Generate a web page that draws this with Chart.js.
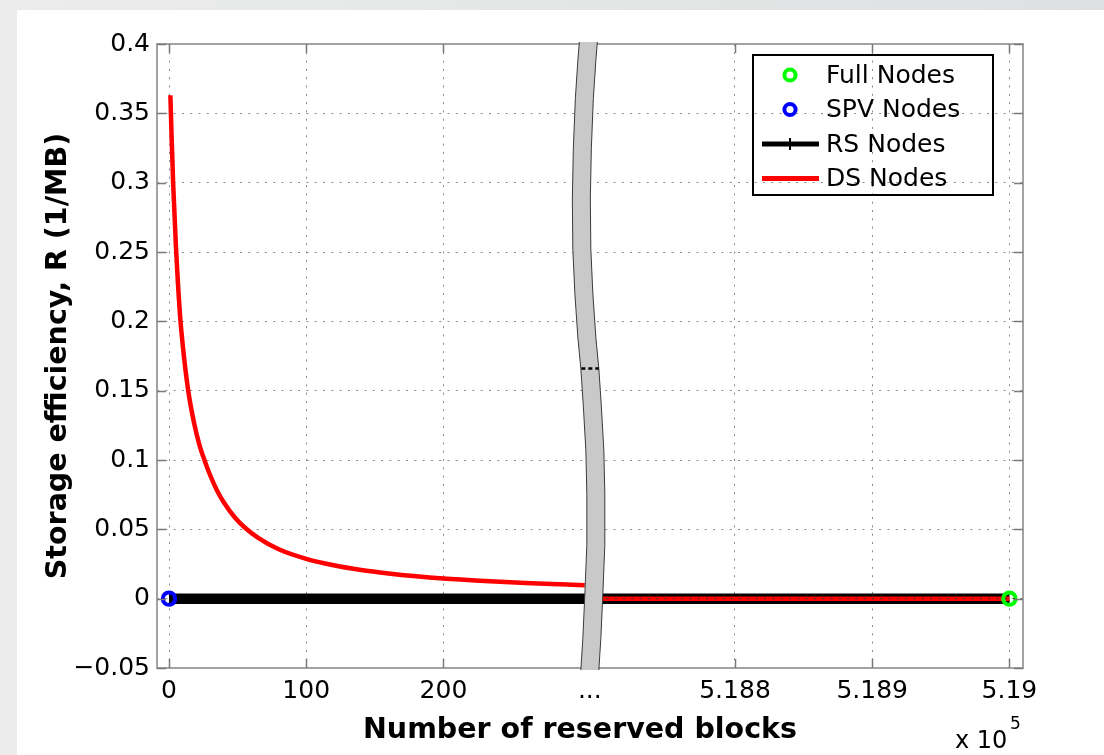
<!DOCTYPE html>
<html><head><meta charset="utf-8">
<script src="https://cdn.jsdelivr.net/npm/chart.js@4.4.0/dist/chart.umd.min.js"></script>
<style>
html,body{margin:0;padding:0;width:1104px;height:755px;overflow:hidden;background:linear-gradient(to right,#ececec,#dde1e1);}
#panel{position:absolute;left:17px;top:10px;right:0;bottom:0;background:#fff;}
#wrap{position:absolute;left:0;top:0;width:1104px;height:755px;}
</style></head><body>
<div id="panel"></div>
<div id="wrap"><canvas id="c" width="1104" height="755"></canvas></div>
<script>
// ---------------- data ----------------
const dsBlocksLeft = [1,2,3,5,8,10,14,18,22,26,30,35,40,48,55,65,80,100,120,140,160,180,200,230,260,290,303];
const dsEffLeft    = [0.363,0.33,0.30,0.255,0.205,0.183,0.15,0.128,0.1115,0.0995,0.089,0.078,0.0693,0.0585,0.0515,0.0438,0.0356,0.0287,0.0241,0.0207,0.0182,0.0162,0.0146,0.0128,0.0113,0.0102,0.0097];
const dsBlocksRight = [518700, 519000];
const dsEffRight    = [0, 0];
const rsBlocksLeft  = [0, 308];
const rsEffLeft     = [0, 0];
const rsBlocksRight = [518700, 519000];
const rsEffRight    = [0, 0];
const fullBlocks = [519000];
const fullEff    = [0];
const spvBlocks  = [0];
const spvEff     = [0];
const xTickBlocks = [0, 100, 200, null, 518800, 518900, 519000];
const xTickLabels = ['0', '100', '200', '...', '5.188', '5.189', '5.19'];
const yTicks      = [-0.05, 0, 0.05, 0.1, 0.15, 0.2, 0.25, 0.3, 0.35, 0.4];
const yTickLabels = ['\u22120.05', '0', '0.05', '0.1', '0.15', '0.2', '0.25', '0.3', '0.35', '0.4'];
const xTitle = 'Number of reserved blocks';
const yTitle = 'Storage efficiency, R (1/MB)';

// ---------------- broken x axis mapping ----------------
const BREAK_POS = 306.7;          // axis position of the "..." break
const RIGHT_ANCHOR = 518800;      // block number of first right-hand tick
const RIGHT_POS = 412.5;          // axis position of that tick
function axisPos(b) { return b === null ? BREAK_POS : (b < 100000 ? b : RIGHT_POS + (b - RIGHT_ANCHOR)); }
function pts(bs, vs) { return bs.map((b, i) => ({ x: axisPos(b), y: vs[i] })); }
const GAP = { x: BREAK_POS, y: null };

const FONT = "'DejaVu Sans', 'Liberation Sans', Arial, sans-serif";

const decor = {
  id: 'decor',
  afterDatasetsDraw(chart) {
    const { ctx, chartArea: a, scales: { x, y } } = chart;
    const y0 = y.getPixelForValue(0);
    ctx.save();
    ctx.strokeStyle = '#333'; ctx.lineWidth = 1; ctx.setLineDash([2, 6.3]);
    ctx.beginPath(); ctx.moveTo(x.getPixelForValue(BREAK_POS), y0); ctx.lineTo(a.right, y0); ctx.stroke();
    ctx.restore();
    // axis box
    ctx.save();
    ctx.strokeStyle = '#a3a3a3'; ctx.lineWidth = 2;
    ctx.strokeRect(a.left, a.top, a.right - a.left, a.bottom - a.top);
    // inward ticks
    ctx.strokeStyle = '#7a7a7a'; ctx.lineWidth = 1.5;
    ctx.beginPath();
    yTicks.forEach(v => {
      const p = Math.round(y.getPixelForValue(v)) + 0.5;
      ctx.moveTo(a.left, p); ctx.lineTo(a.left + 9, p);
      ctx.moveTo(a.right, p); ctx.lineTo(a.right - 9, p);
    });
    xTickBlocks.forEach(b => {
      if (b === null) return;
      const p = Math.round(x.getPixelForValue(axisPos(b))) + 0.5;
      ctx.moveTo(p, a.bottom); ctx.lineTo(p, a.bottom - 9);
      ctx.moveTo(p, a.top); ctx.lineTo(p, a.top + 9);
    });
    ctx.stroke();
    ctx.restore();
    // break band
    const cx = x.getPixelForValue(BREAK_POS);
    const prof = [[0,-1.5],[0.03,-3],[0.09,-5.5],[0.17,-7.5],[0.25,-8.5],[0.33,-8],[0.4,-6],[0.47,-3],[0.52,0],[0.58,2.5],[0.65,5],[0.72,6],[0.8,6],[0.88,4],[0.95,2],[1,0]];
    const hw = 9, top = a.top - 2, h = a.bottom - a.top + 4;
    const edge = (s) => { ctx.beginPath(); prof.forEach(([t, d], i) => { const yy = top + t * h; const xx = cx + d + s * hw; i ? ctx.lineTo(xx, yy) : ctx.moveTo(xx, yy); }); };
    ctx.save();
    ctx.beginPath();
    prof.forEach(([t, d], i) => { const yy = top + t * h; const xx = cx + d - hw; i ? ctx.lineTo(xx, yy) : ctx.moveTo(xx, yy); });
    for (let i = prof.length - 1; i >= 0; i--) { const [t, d] = prof[i]; ctx.lineTo(cx + d + hw, top + t * h); }
    ctx.closePath();
    ctx.fillStyle = '#c9c9c9'; ctx.fill();
    ctx.strokeStyle = '#3a3a3a'; ctx.lineWidth = 1;
    edge(-1); ctx.stroke();
    edge(1); ctx.stroke();
    const ty = a.top + 0.52 * (a.bottom - a.top);
    ctx.strokeStyle = '#000'; ctx.lineWidth = 2.5; ctx.setLineDash([4, 3]);
    ctx.beginPath(); ctx.moveTo(cx - hw + 0.5, ty); ctx.lineTo(cx + hw, ty); ctx.stroke();
    ctx.restore();
  },
  afterDraw(chart) {
    const { ctx } = chart;
    ctx.save();
    ctx.strokeStyle = '#000'; ctx.lineWidth = 2;
    ctx.strokeRect(753, 55, 240, 140);
    const rows = [75, 109.5, 144, 178.5];
    const mx = 790;
    chart.data.datasets.forEach((ds, i) => {
      const ry = rows[i];
      ctx.setLineDash([]);
      if (ds.legendKind === 'circle') {
        ctx.strokeStyle = ds.pointBorderColor; ctx.lineWidth = 4;
        ctx.beginPath(); ctx.arc(mx, ry, 5.6, 0, Math.PI * 2); ctx.stroke();
      } else {
        ctx.strokeStyle = ds.borderColor; ctx.lineWidth = 5;
        ctx.beginPath(); ctx.moveTo(762, ry); ctx.lineTo(819, ry); ctx.stroke();
        if (ds.legendKind === 'plus') {
          ctx.lineWidth = 2;
          ctx.beginPath(); ctx.moveTo(mx, ry - 6); ctx.lineTo(mx, ry + 6); ctx.stroke();
        }
      }
      ctx.fillStyle = '#000'; ctx.font = '25px ' + FONT; ctx.textBaseline = 'middle'; ctx.textAlign = 'left';
      ctx.fillText(ds.label, 826, ry + 1);
    });
    // x-axis title
    ctx.font = 'bold 28.5px ' + FONT; ctx.textAlign = 'center'; ctx.textBaseline = 'middle';
    ctx.fillText(xTitle, 580, 731);
    // exponent label
    ctx.textAlign = 'left';
    ctx.font = '24px ' + FONT; ctx.textBaseline = 'alphabetic';
    ctx.fillText('x 10', 955, 748);
    ctx.font = '17px ' + FONT;
    ctx.fillText('5', 1010, 729);
    ctx.restore();
  }
};

new Chart(document.getElementById('c'), {
  type: 'line',
  data: {
    datasets: [
      { label: 'Full Nodes', legendKind: 'circle', data: pts(fullBlocks, fullEff), showLine: false,
        pointRadius: 6.2, pointBorderWidth: 4, pointBorderColor: '#00ff00', pointBackgroundColor: 'rgba(0,0,0,0)', order: 0 },
      { label: 'SPV Nodes', legendKind: 'circle', data: pts(spvBlocks, spvEff), showLine: false,
        pointRadius: 6.2, pointBorderWidth: 4, pointBorderColor: '#0000ff', pointBackgroundColor: 'rgba(0,0,0,0)', order: 1 },
      { label: 'RS Nodes', legendKind: 'plus', data: pts(rsBlocksLeft, rsEffLeft).concat([GAP], pts(rsBlocksRight, rsEffRight)),
        borderColor: '#000', borderWidth: 10.5, borderCapStyle: 'butt', pointRadius: 0, spanGaps: false, order: 3 },
      { label: 'DS Nodes', legendKind: 'line', data: pts(dsBlocksLeft, dsEffLeft).concat([GAP], pts(dsBlocksRight, dsEffRight)),
        borderColor: '#ff0000', borderWidth: 4.5, pointRadius: 0, spanGaps: false, cubicInterpolationMode: 'monotone', order: 2 }
    ]
  },
  options: {
    responsive: false, animation: false, devicePixelRatio: 1,
    layout: { padding: { top: 44, right: 81, left: 0, bottom: 0 } },
    plugins: { legend: { display: false }, tooltip: { enabled: false } },
    scales: {
      x: {
        type: 'linear', min: -8.75, max: 622.4,
        afterBuildTicks: s => { s.ticks = xTickBlocks.map(b => ({ value: axisPos(b) })); },
        afterFit: s => { s.height = 87; },
        ticks: { autoSkip: false, maxRotation: 0, padding: 8, color: '#000',
                 font: { family: FONT, size: 25 }, callback: (v, i) => xTickLabels[i] },
        grid: { color: '#8a8a8a', lineWidth: 1, drawTicks: false },
        border: { display: false, dash: [2, 6.3] },
        title: { display: false }
      },
      y: {
        type: 'linear', min: -0.05, max: 0.4,
        afterBuildTicks: s => { s.ticks = yTicks.map(v => ({ value: v })); },
        afterFit: s => { s.width = 157; },
        ticks: { autoSkip: false, padding: 7, color: '#000',
                 font: { family: FONT, size: 25 }, callback: (v, i) => yTickLabels[i] },
        grid: { color: '#8a8a8a', lineWidth: 1, drawTicks: false },
        border: { display: false, dash: [2, 6.3] },
        title: { display: true, text: yTitle, color: '#000',
                 font: { family: FONT, size: 28.5, weight: 'bold' }, padding: { top: 41, bottom: 0 } }
      }
    }
  },
  plugins: [decor]
});
</script>
</body></html>
